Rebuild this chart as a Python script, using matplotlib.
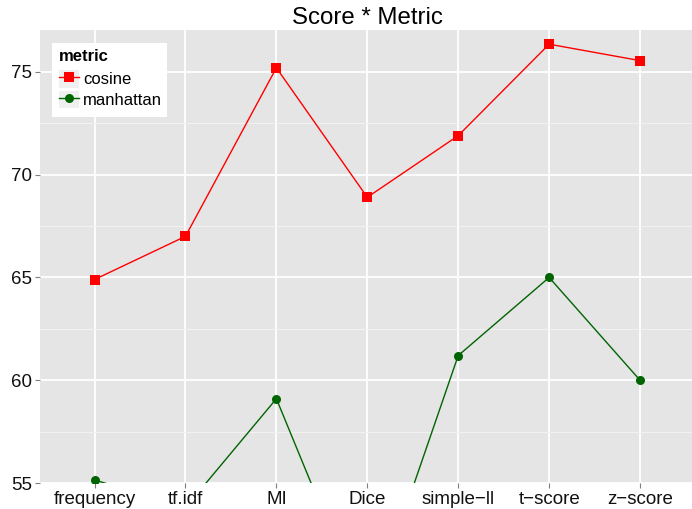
import matplotlib
matplotlib.use("Agg")
import matplotlib.pyplot as plt
from matplotlib.lines import Line2D
from matplotlib.patches import Rectangle
from matplotlib.legend_handler import HandlerLine2D
import numpy as np

plt.rcParams['font.family'] = ['Liberation Sans', 'DejaVu Sans']

categories = ["frequency", "tf.idf", "MI", "Dice", "simple\u2212ll", "t\u2212score", "z\u2212score"]
cosine = [64.9, 67.0, 75.2, 68.9, 71.9, 76.35, 75.55]
manhattan = [55.15, 53.8, 59.1, 48.35, 61.2, 65.0, 60.0]
yticks = [55, 60, 65, 70, 75]
minor_yticks = [57.5, 62.5, 67.5, 72.5]

fig = plt.figure(figsize=(6.92, 5.09), dpi=100)
ax = fig.add_axes([40/692, 26/509, 652/692, 453/509])
ax.set_facecolor("#E5E5E5")
for s in ax.spines.values():
    s.set_visible(False)

x = np.arange(len(categories))
ax.set_yticks(yticks)
ax.set_yticks(minor_yticks, minor=True)
ax.set_xticks(x)
ax.set_xticklabels(categories)
ax.set_xlim(-0.6, (692-94)/91)
ax.set_ylim(55, 77.04)

ax.grid(which="major", color="white", linewidth=1.3)
ax.grid(which="minor", axis="y", color="#F2F2F2", linewidth=0.7)
ax.set_axisbelow(True)
ax.tick_params(axis="both", which="major", length=3.5, width=0.8, color="#7F7F7F",
               labelsize=13.5, labelcolor="#111111", pad=2)
ax.tick_params(axis="both", which="minor", length=0)

ax.plot(x, cosine, color="#FF0000", linewidth=1.0, marker="s", markersize=6.5,
        markeredgewidth=0, label="cosine", clip_on=True)
ax.plot(x, manhattan, color="#006400", linewidth=1.0, marker="o", markersize=6.5,
        markeredgewidth=0, label="manhattan", clip_on=True)

fig.text((40 + 694.6) / 2 / 692, 1 - 18/509, "Score * Metric", ha="center", va="center",
         fontsize=17.3, color="black")


class BoxHandler(HandlerLine2D):
    def create_artists(self, legend, orig_handle, xdescent, ydescent, width, height,
                       fontsize, trans):
        arts = super().create_artists(legend, orig_handle, xdescent, ydescent, width,
                                      height, fontsize, trans)
        rect = Rectangle((-xdescent, -ydescent), width, height, facecolor="#F0F0F0",
                         edgecolor="none", transform=trans)
        return [rect] + list(arts)


# white legend background box
ax.add_patch(Rectangle(((52-40)/652, (483-117)/453), 115/652, 74/453,
                       transform=ax.transAxes, facecolor="white", edgecolor="none",
                       zorder=4))

handles = [Line2D([], [], color="#FF0000", linewidth=1.0, marker="s", markersize=6.5, markeredgewidth=0),
           Line2D([], [], color="#006400", linewidth=1.0, marker="o", markersize=6.5, markeredgewidth=0)]
leg = ax.legend(handles, ["cosine", "manhattan"], title="metric", loc="upper left",
                bbox_to_anchor=((54-40)/652, (483-44)/453), borderaxespad=0,
                frameon=False,
                fontsize=12, title_fontproperties={"weight": "bold", "size": 12},
                alignment="left", handlelength=1.2, handleheight=1.25, handletextpad=0.25,
                labelspacing=0.18, borderpad=0.3,
                handler_map={Line2D: BoxHandler(numpoints=1)})
leg.set_zorder(5)
leg._legend_box.sep = 0.18 * 12 + 2.2

fig.savefig("out.png", dpi=100)
